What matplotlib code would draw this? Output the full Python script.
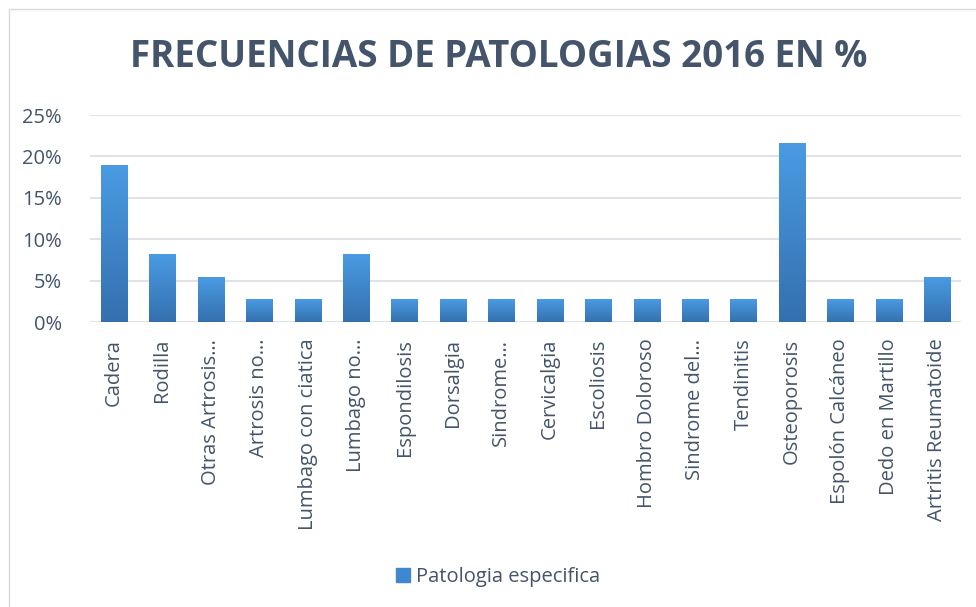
import numpy as np
import matplotlib
matplotlib.use('Agg')
import matplotlib.pyplot as plt
from matplotlib.patches import Rectangle
from matplotlib.ticker import PercentFormatter
from matplotlib.colors import LinearSegmentedColormap

# Datos
patologias = ['Cadera', 'Rodilla', 'Otras Artrosis…', 'Artrosis no…',
              'Lumbago con ciatica', 'Lumbago no…', 'Espondilosis', 'Dorsalgia',
              'Sindrome…', 'Cervicalgia', 'Escoliosis', 'Hombro Doloroso',
              'Sindrome del…', 'Tendinitis', 'Osteoporosis', 'Espolón Calcáneo',
              'Dedo en Martillo', 'Artritis Reumatoide']
frecuencias = [18.9, 8.1, 5.4, 2.7, 2.7, 8.1, 2.7, 2.7, 2.7, 2.7, 2.7, 2.7,
               2.7, 2.7, 21.6, 2.7, 2.7, 5.4]

plt.rcParams['font.family'] = ['Open Sans', 'DejaVu Sans']
text_col = '#44546A'
grid_col = '#D9DDE3'

fig = plt.figure(figsize=(9.76, 6.07), dpi=100)
ax = fig.add_axes([0.092, 0.4695, 0.893, 0.341])

x = np.arange(len(patologias))
bars = ax.bar(x, frecuencias, width=0.54, color='none', zorder=3,
              label='Patologia especifica')

# Degradado de las barras
cmap = LinearSegmentedColormap.from_list('grad', ['#3470AE', '#4A9BE3'])
grad = np.linspace(0, 1, 256).reshape(-1, 1)
for b in bars:
    x0, w, h = b.get_x(), b.get_width(), b.get_height()
    ax.imshow(grad, cmap=cmap, origin='lower', aspect='auto',
              extent=[x0, x0 + w, 0, h], zorder=3)

ax.set_xlim(-0.5, len(patologias) - 0.5)
ax.set_ylim(0, 25)
ax.set_yticks([0, 5, 10, 15, 20, 25])
ax.yaxis.set_major_formatter(PercentFormatter(decimals=0))
ax.grid(axis='y', color=grid_col, linewidth=1.2, zorder=0)
for s in ax.spines.values():
    s.set_visible(False)
ax.tick_params(axis='both', length=0, colors=text_col)
ax.tick_params(axis='y', pad=20, labelsize=14.5)
ax.tick_params(axis='x', pad=12)
ax.set_xticks(x)
ax.set_xticklabels(patologias, rotation=90, fontsize=14.5)

fig.text(0.511, 0.906, 'FRECUENCIAS DE PATOLOGIAS 2016 EN %', ha='center',
         va='center', fontsize=26.5, fontweight='bold', color=text_col)

leg = fig.legend(handles=[Rectangle((0, 0), 1, 1, color='#3F87CE')],
                 labels=['Patologia especifica'], loc='center',
                 bbox_to_anchor=(0.51, 0.05), frameon=False, fontsize=14.5,
                 handlelength=0.7, handleheight=0.7, handletextpad=0.3)
for t in leg.get_texts():
    t.set_color(text_col)

# Marco exterior
fig.patches.append(Rectangle((0.009, -0.01), 1.1, 0.995, transform=fig.transFigure,
                             fill=False, edgecolor='#D9D9D9', linewidth=1))

fig.savefig('out.png', dpi=100)
